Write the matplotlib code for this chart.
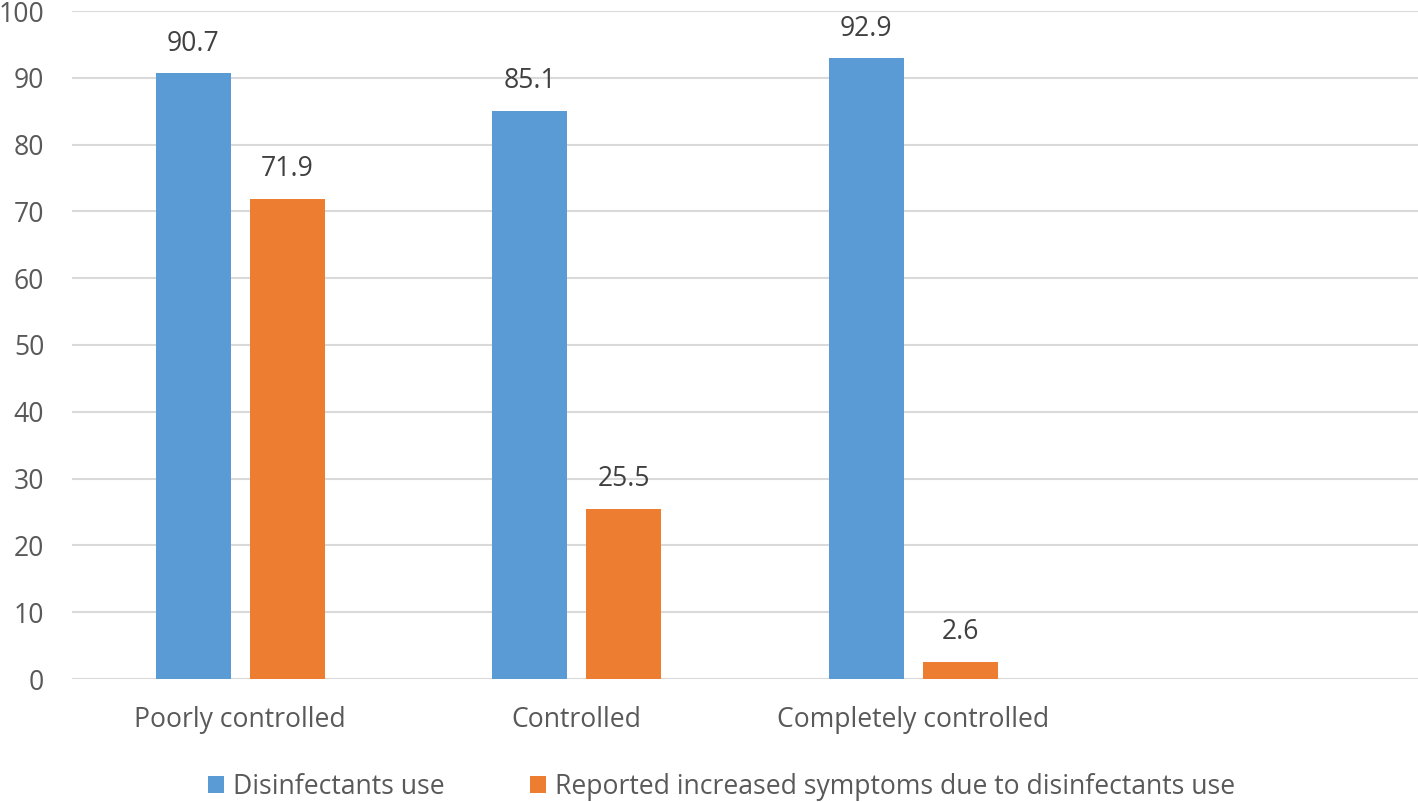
import matplotlib
matplotlib.use("Agg")
import matplotlib.pyplot as plt
import numpy as np

categories = ["Poorly controlled", "Controlled", "Completely controlled", ""]
series_names = ["Disinfectants use", "Reported increased symptoms due to disinfectants use"]
disinfectants = [90.7, 85.1, 92.9]
symptoms = [71.9, 25.5, 2.6]
yticks = list(range(0, 101, 10))

blue = "#5B9BD5"
orange = "#ED7D31"
fs = 19.1

plt.rcParams['font.family'] = ['Open Sans', 'DejaVu Sans']

fig = plt.figure(figsize=(14.18, 8.02), dpi=100)
ax = fig.add_axes([72/1418, 1-679/802, 1-72/1418, (679-11)/802])

x = np.arange(len(disinfectants))
w = 0.223
off = 0.14
b1 = ax.bar(x - off, disinfectants, w, color=blue, label=series_names[0], zorder=3)
b2 = ax.bar(x + off, symptoms, w, color=orange, label=series_names[1], zorder=3)

for bars, vals in ((b1, disinfectants), (b2, symptoms)):
    for r, v in zip(bars, vals):
        ax.annotate(f"{v}", (r.get_x() + r.get_width()/2, v), xytext=(0, 11),
                    textcoords="offset points", ha="center", va="bottom",
                    fontsize=fs, color="#404040")

ax.set_xlim(-0.5, len(categories) - 0.5)
ax.set_ylim(0, 100)
ax.set_yticks(yticks)
ax.set_xticks(np.arange(len(categories)))
ax.set_xticklabels(categories)
ax.tick_params(axis='both', length=0, labelsize=fs, colors="#595959")
ax.tick_params(axis='x', pad=19.5)
ax.tick_params(axis='y', pad=20)
ax.yaxis.grid(True, color="#D9D9D9", linewidth=1.5, zorder=0)
for s in ax.spines.values():
    s.set_visible(False)

leg = fig.legend(handles=[b1, b2], labels=series_names, loc="center",
                 bbox_to_anchor=(0.509, 1-787/802), ncol=2, frameon=False,
                 fontsize=fs, handlelength=0.6, handleheight=0.6,
                 handletextpad=0.35, columnspacing=3.2)
for t in leg.get_texts():
    t.set_color("#595959")

fig.savefig("out.png", dpi=100)
